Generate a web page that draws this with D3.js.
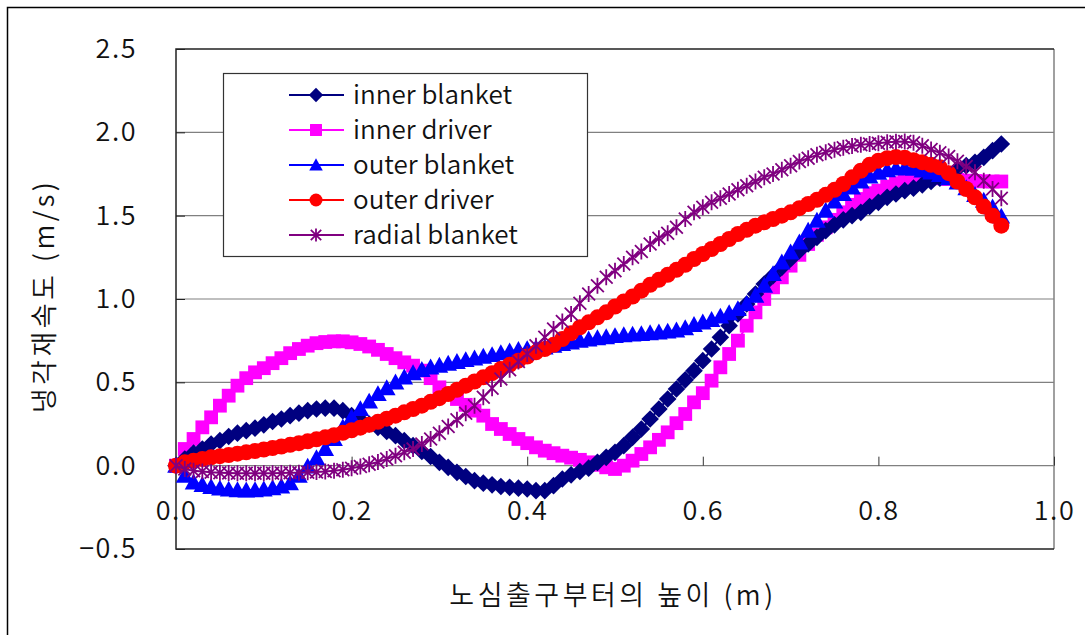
<!DOCTYPE html>
<html>
<head>
<meta charset="utf-8">
<script src="https://cdnjs.cloudflare.com/ajax/libs/d3/7.8.5/d3.min.js"></script>
<style>
  body { margin: 0; background: #fff; }
  svg { display: block; }
  text { font-family: "Noto Sans CJK KR", "Noto Sans", sans-serif; fill: #111; font-weight: 350; }
  .tick text { font-size: 27px; letter-spacing: 1.5px; }
  .legend-label { font-size: 26px; }
  .axis-title { font-size: 27px; letter-spacing: 3.5px; }
</style>
</head>
<body>
<script>
// x positions (m)
var heights = [
  0.00, 0.01, 0.02, 0.03, 0.04, 0.05, 0.06, 0.07, 0.08, 0.09,
  0.10, 0.11, 0.12, 0.13, 0.14, 0.15, 0.16, 0.17, 0.18, 0.19,
  0.20, 0.21, 0.22, 0.23, 0.24, 0.25, 0.26, 0.27, 0.28, 0.29,
  0.30, 0.31, 0.32, 0.33, 0.34, 0.35, 0.36, 0.37, 0.38, 0.39,
  0.40, 0.41, 0.42, 0.43, 0.44, 0.45, 0.46, 0.47, 0.48, 0.49,
  0.50, 0.51, 0.52, 0.53, 0.54, 0.55, 0.56, 0.57, 0.58, 0.59,
  0.60, 0.61, 0.62, 0.63, 0.64, 0.65, 0.66, 0.67, 0.68, 0.69,
  0.70, 0.71, 0.72, 0.73, 0.74, 0.75, 0.76, 0.77, 0.78, 0.79,
  0.80, 0.81, 0.82, 0.83, 0.84, 0.85, 0.86, 0.87, 0.88, 0.89,
  0.90, 0.91, 0.92, 0.93, 0.94
];

var innerBlanket = [
  0, 0.04, 0.075, 0.10, 0.13, 0.15, 0.175, 0.195, 0.21, 0.225,
  0.245, 0.265, 0.28, 0.30, 0.315, 0.33, 0.34, 0.345, 0.345, 0.33,
  0.30, 0.275, 0.25, 0.23, 0.205, 0.18, 0.15, 0.12, 0.085, 0.055,
  0.02, -0.01, -0.04, -0.065, -0.09, -0.105, -0.115, -0.125, -0.13, -0.135,
  -0.14, -0.15, -0.15, -0.12, -0.08, -0.055, -0.035, -0.015, 0.02, 0.05,
  0.08, 0.12, 0.17, 0.22, 0.28, 0.34, 0.40, 0.46, 0.515, 0.57,
  0.63, 0.70, 0.77, 0.84, 0.91, 0.97, 1.03, 1.09, 1.14, 1.19,
  1.24, 1.29, 1.33, 1.37, 1.41, 1.445, 1.475, 1.50, 1.52, 1.555,
  1.58, 1.61, 1.63, 1.65, 1.665, 1.685, 1.705, 1.725, 1.75, 1.78,
  1.80, 1.82, 1.85, 1.89, 1.93
];

var innerDriver = [
  0, 0.10, 0.16, 0.23, 0.29, 0.36, 0.42, 0.48, 0.525, 0.56,
  0.585, 0.615, 0.645, 0.675, 0.70, 0.72, 0.735, 0.742, 0.746, 0.746,
  0.74, 0.73, 0.715, 0.695, 0.67, 0.645, 0.62, 0.60, 0.57, 0.525,
  0.47, 0.435, 0.40, 0.365, 0.33, 0.30, 0.25, 0.22, 0.19, 0.16,
  0.135, 0.11, 0.09, 0.075, 0.06, 0.048, 0.035, 0.02, 0.005, -0.01,
  -0.02, 0.0, 0.03, 0.07, 0.11, 0.155, 0.20, 0.255, 0.31, 0.38,
  0.435, 0.51, 0.59, 0.67, 0.75, 0.84, 0.92, 1.0, 1.07, 1.13,
  1.20, 1.265, 1.33, 1.385, 1.43, 1.475, 1.52, 1.565, 1.60, 1.635,
  1.65, 1.675, 1.695, 1.71, 1.718, 1.724, 1.726, 1.724, 1.72, 1.715,
  1.71, 1.708, 1.706, 1.705, 1.705
];

var outerBlanket = [
  0, -0.06, -0.10, -0.115, -0.128, -0.137, -0.143, -0.147, -0.148, -0.147,
  -0.142, -0.135, -0.125, -0.105, -0.06, -0.005, 0.045, 0.10, 0.16, 0.23,
  0.29, 0.34, 0.385, 0.43, 0.465, 0.50, 0.53, 0.555, 0.575, 0.59,
  0.60, 0.612, 0.623, 0.634, 0.644, 0.654, 0.664, 0.675, 0.686, 0.695,
  0.70, 0.705, 0.71, 0.72, 0.73, 0.74, 0.75, 0.758, 0.765, 0.771,
  0.778, 0.783, 0.787, 0.79, 0.795, 0.80, 0.805, 0.812, 0.825, 0.845,
  0.86, 0.875, 0.895, 0.915, 0.94, 0.97, 1.02, 1.08, 1.15, 1.22,
  1.28, 1.34, 1.41, 1.47, 1.53, 1.585, 1.63, 1.67, 1.705, 1.735,
  1.758, 1.773, 1.783, 1.786, 1.782, 1.772, 1.76, 1.745, 1.725, 1.70,
  1.665, 1.625, 1.59, 1.55, 1.495
];

var outerDriver = [
  0, 0.02, 0.03, 0.04, 0.05, 0.057, 0.064, 0.072, 0.08, 0.088,
  0.097, 0.106, 0.115, 0.125, 0.135, 0.146, 0.158, 0.17, 0.183, 0.197,
  0.212, 0.228, 0.245, 0.263, 0.282, 0.30, 0.32, 0.34, 0.36, 0.383,
  0.405, 0.43, 0.455, 0.48, 0.505, 0.53, 0.555, 0.58, 0.605, 0.63,
  0.655, 0.68, 0.70, 0.725, 0.76, 0.795, 0.83, 0.86, 0.89, 0.92,
  0.955, 0.985, 1.015, 1.05, 1.085, 1.115, 1.145, 1.175, 1.205, 1.24,
  1.27, 1.30, 1.33, 1.36, 1.39, 1.415, 1.44, 1.46, 1.48, 1.50,
  1.52, 1.545, 1.57, 1.595, 1.625, 1.655, 1.69, 1.73, 1.77, 1.805,
  1.83, 1.845, 1.852, 1.848, 1.833, 1.82, 1.805, 1.79, 1.755, 1.705,
  1.66, 1.61, 1.555, 1.50, 1.44
];

var radialBlanket = [
  0, -0.02, -0.03, -0.035, -0.04, -0.042, -0.044, -0.045, -0.046, -0.046,
  -0.046, -0.045, -0.044, -0.043, -0.042, -0.04, -0.038, -0.035, -0.03, -0.025,
  -0.015, -0.005, 0.008, 0.022, 0.04, 0.06, 0.08, 0.10, 0.13, 0.16,
  0.195, 0.235, 0.275, 0.315, 0.36, 0.41, 0.465, 0.52, 0.575, 0.625,
  0.67, 0.72, 0.77, 0.82, 0.865, 0.91, 0.975, 1.03, 1.08, 1.13,
  1.17, 1.21, 1.25, 1.285, 1.33, 1.365, 1.395, 1.43, 1.48, 1.52,
  1.55, 1.58, 1.605, 1.63, 1.655, 1.68, 1.705, 1.73, 1.75, 1.775,
  1.80, 1.825, 1.845, 1.865, 1.88, 1.895, 1.908, 1.918, 1.925, 1.93,
  1.935, 1.94, 1.943, 1.945, 1.938, 1.92, 1.897, 1.877, 1.855, 1.826,
  1.795, 1.76, 1.71, 1.66, 1.605
];

var seriesNames = ['inner blanket', 'inner driver', 'outer blanket', 'outer driver', 'radial blanket'];
var seriesColors = ['#000080', '#ff00ff', '#0000ff', '#ff0000', '#800080'];
var seriesMarkers = ['diamond', 'square', 'triangle', 'circle', 'star'];
var seriesValues = [innerBlanket, innerDriver, outerBlanket, outerDriver, radialBlanket];
// pink is painted below navy in the original
var drawOrder = [1, 0, 2, 3, 4];

var xTicks = [0, 0.2, 0.4, 0.6, 0.8, 1.0];
var yTicks = [-0.5, 0, 0.5, 1.0, 1.5, 2.0, 2.5];

var width = 1085, height = 635;
var plotLeft = 176, plotRight = 1054, plotTop = 49, plotBottom = 549;

var svg = d3.select('body').append('svg')
  .attr('width', width)
  .attr('height', height);

// outer frame
svg.append('rect')
  .attr('x', 7.5).attr('y', 7.5)
  .attr('width', width + 10).attr('height', height + 10)
  .attr('fill', '#fff')
  .attr('stroke', '#000')
  .attr('stroke-width', 1.5);

var xScale = d3.scaleLinear().domain([0, 1]).range([plotLeft, plotRight]);
var yScale = d3.scaleLinear().domain([-0.5, 2.5]).range([plotBottom, plotTop]);

// gridlines
svg.append('g')
  .selectAll('line')
  .data(yTicks.filter(function(d) { return d > -0.5 && d < 2.5; }))
  .enter()
  .append('line')
  .attr('x1', plotLeft).attr('x2', plotRight)
  .attr('y1', function(d) { return yScale(d); })
  .attr('y2', function(d) { return yScale(d); })
  .attr('stroke', '#808080')
  .attr('stroke-width', 1.2);

// plot frame
svg.append('line')
  .attr('x1', plotRight).attr('x2', plotRight)
  .attr('y1', plotTop).attr('y2', plotBottom)
  .attr('stroke', '#808080').attr('stroke-width', 1.5);
svg.append('path')
  .attr('d', 'M' + plotRight + ',' + plotTop + 'H' + plotLeft + 'V' + plotBottom + 'H' + plotRight)
  .attr('fill', 'none')
  .attr('stroke', '#222')
  .attr('stroke-width', 1.5);

// y axis
var yAxis = d3.axisLeft(yScale)
  .tickValues(yTicks)
  .tickFormat(function(d) { return d < 0 ? '\u2212' + Math.abs(d).toFixed(1) : d.toFixed(1); })
  .tickSizeInner(-9)
  .tickSizeOuter(0)
  .tickPadding(39);
var gy = svg.append('g')
  .attr('transform', 'translate(' + plotLeft + ',0)')
  .call(yAxis);
gy.select('.domain').remove();
gy.selectAll('.tick line').attr('stroke', '#222');
gy.selectAll('.tick text').attr('x', -39).attr('fill', '#111');

// x axis sits on the zero line
var xAxis = d3.axisBottom(xScale)
  .tickValues(xTicks)
  .tickFormat(d3.format('.1f'))
  .tickSizeInner(-9)
  .tickSizeOuter(0)
  .tickPadding(35);
var gx = svg.append('g')
  .attr('transform', 'translate(0,' + yScale(0) + ')')
  .call(xAxis);
gx.select('.domain').remove();
gx.selectAll('.tick line').attr('stroke', '#333');
gx.selectAll('.tick text').attr('y', 35).attr('fill', '#111');

function markerPath(type, s) {
  var h;
  if (type === 'diamond') {
    h = s * 0.55;
    return 'M0,' + (-h) + 'L' + h + ',0L0,' + h + 'L' + (-h) + ',0Z';
  }
  if (type === 'square') {
    h = s * 0.46;
    return 'M' + (-h) + ',' + (-h) + 'H' + h + 'V' + h + 'H' + (-h) + 'Z';
  }
  if (type === 'triangle') {
    h = s * 0.52;
    return 'M0,' + (-h) + 'L' + (h * 1.0) + ',' + (h * 0.8) + 'L' + (-h * 1.0) + ',' + (h * 0.8) + 'Z';
  }
  if (type === 'circle') {
    h = s * 0.5;
    return 'M' + h + ',0A' + h + ',' + h + ' 0 1,1 ' + (-h) + ',0A' + h + ',' + h + ' 0 1,1 ' + h + ',0Z';
  }
  // asterisk: vertical bar plus an X
  h = s * 0.5;
  var d = h * 0.8;
  return 'M0,' + (-h) + 'V' + h + 'M' + (-d) + ',' + (-d) + 'L' + d + ',' + d + 'M' + d + ',' + (-d) + 'L' + (-d) + ',' + d;
}

function drawMarker(g, type, color, size) {
  var p = g.append('path').attr('d', markerPath(type, size));
  if (type === 'star') {
    p.attr('fill', 'none').attr('stroke', color).attr('stroke-width', 1.8);
  } else {
    p.attr('fill', color).attr('stroke', 'none');
  }
}

var line = d3.line()
  .x(function(d) { return xScale(d[0]); })
  .y(function(d) { return yScale(d[1]); });

var markerSizes = [16, 15, 17, 16, 16];

drawOrder.forEach(function(si) {
  var pts = heights.map(function(h, i) { return [h, seriesValues[si][i]]; });
  var g = svg.append('g').attr('class', 'series');
  g.append('path')
    .datum(pts)
    .attr('d', line)
    .attr('fill', 'none')
    .attr('stroke', seriesColors[si])
    .attr('stroke-width', 2);
  g.selectAll('g.pt')
    .data(pts)
    .enter()
    .append('g')
    .attr('class', 'pt')
    .attr('transform', function(d) { return 'translate(' + xScale(d[0]) + ',' + yScale(d[1]) + ')'; })
    .each(function() {
      drawMarker(d3.select(this), seriesMarkers[si], seriesColors[si], markerSizes[si]);
    });
});

// legend
var legend = svg.append('g').attr('class', 'legend');
legend.append('rect')
  .attr('x', 223.5).attr('y', 73.5)
  .attr('width', 364).attr('height', 183)
  .attr('fill', '#fff')
  .attr('stroke', '#333')
  .attr('stroke-width', 1.2);

seriesNames.forEach(function(name, i) {
  var cy = 95 + i * 35;
  legend.append('line')
    .attr('x1', 289).attr('x2', 344)
    .attr('y1', cy).attr('y2', cy)
    .attr('stroke', seriesColors[i])
    .attr('stroke-width', 2);
  var mg = legend.append('g').attr('transform', 'translate(316,' + cy + ')');
  drawMarker(mg, seriesMarkers[i], seriesColors[i], 13);
  legend.append('text')
    .attr('class', 'legend-label')
    .attr('x', 353)
    .attr('y', cy)
    .attr('dy', '0.36em')
    .text(name);
});

// axis titles
svg.append('text')
  .attr('class', 'axis-title')
  .attr('x', 613)
  .attr('y', 605)
  .attr('text-anchor', 'middle')
  .text('노심출구부터의 높이 (m)');

svg.append('text')
  .attr('class', 'axis-title')
  .attr('transform', 'translate(54,296) rotate(-90)')
  .attr('text-anchor', 'middle')
  .text('냉각재속도 (m/s)');
</script>
</body>
</html>
